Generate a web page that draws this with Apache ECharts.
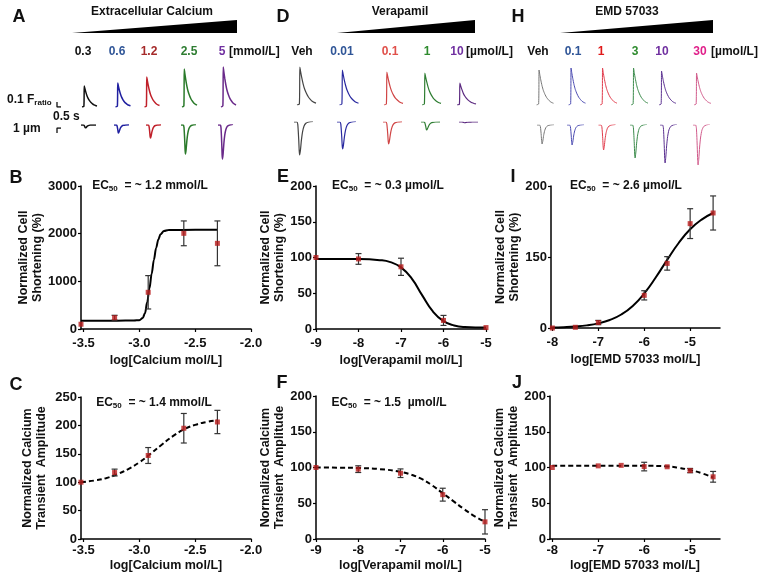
<!DOCTYPE html>
<html><head><meta charset="utf-8">
<script src="https://cdn.jsdelivr.net/npm/echarts@6/dist/echarts.min.js"></script>
<style>html,body{margin:0;padding:0;background:#fff}#c{width:764px;height:579px}</style>
</head><body><div id="c"></div>
<script>
// ---------------- DATA ----------------
// Panel B / C : extracellular calcium (log mol/L)
const caLogX = [-3.523, -3.222, -2.921, -2.602, -2.301];
const bShort = [100, 237, 770, 2007, 1797];
const bShortErr = [0, 50, 350, 260, 470];
const bFitX = [-3.523, -3.2, -3.05, -3.0, -2.97, -2.95, -2.93, -2.91, -2.89, -2.87, -2.85, -2.83, -2.81, -2.78, -2.74, -2.5, -2.3];
const bFitY = [175, 175, 178, 185, 230, 330, 560, 850, 1160, 1450, 1700, 1880, 1990, 2055, 2078, 2080, 2080];
const cAmp = [100, 117, 147, 195, 206];
const cAmpErr = [0, 6, 14, 26, 20.5];
const cFitX = [-3.523, -3.4, -3.3, -3.2, -3.1, -3.0, -2.9, -2.8, -2.7, -2.6, -2.5, -2.4, -2.3];
const cFitY = [100, 103, 107, 114, 123, 135, 150, 166, 181, 193, 201, 206, 209];
// Panel E / F : verapamil
const verLogX = [-9, -8, -7, -6, -5];
const eShort = [100, 98, 87, 12, 2];
const eShortErr = [0, 7.5, 12, 7, 0];
const eFitX = [-9, -8, -7.5, -7.25, -7, -6.75, -6.5, -6.25, -6, -5.75, -5.5, -5];
const eFitY = [98, 97.8, 96.3, 93.5, 86.2, 70.8, 47, 24.5, 11, 5, 2.8, 2];
const fAmp = [100, 97.7, 92, 62, 24];
const fAmpErr = [0, 4.7, 6, 9, 17];
const fFitX = [-9, -8.5, -8, -7.5, -7, -6.75, -6.5, -6.25, -6, -5.75, -5.5, -5.25, -5];
const fFitY = [100, 99.8, 99.3, 97.8, 94, 90, 84, 75, 64, 53, 42, 32, 24];
// Panel I / J : EMD 57033
const emdLogX = [-8, -7.5, -7, -6, -5.5, -5, -4.5];
const iShort = [0, 1, 7.7, 46, 91, 147, 162];
const iShortErr = [0, 0, 3, 6.5, 9.5, 21, 24];
const iFitX = [-8, -7.75, -7.5, -7.25, -7, -6.75, -6.5, -6.25, -6, -5.75, -5.5, -5.25, -5, -4.75, -4.5];
const iFitY = [0.7, 1.2, 2.1, 3.7, 6.5, 11.2, 19, 31.1, 48.6, 71.1, 96, 119.7, 139, 152.7, 162];
const jLogX = [-8, -7, -6.5, -6, -5.5, -5, -4.5];
const jAmp = [100, 102.3, 103, 101.3, 101, 95.7, 87];
const jAmpErr = [0, 0, 0, 6, 0, 3, 7.5];
const jFitX = [-8, -7, -6, -5.5, -5.25, -5, -4.75, -4.5];
const jFitY = [102.5, 102.5, 102.4, 101.5, 99.5, 96.5, 92, 86];
// tick labels
const caTicks = [-3.5, -3.0, -2.5, -2.0];
const verTicks = [-9, -8, -7, -6, -5];
const emdTicks = [-8, -7, -6, -5];
const iYLabels = {0: '0', 100: '150', 200: '200'};
// representative traces: template waveforms (time s, normalized)
const caT = [0, 0.25, 0.3, 0.38, 0.5, 0.65, 0.8, 1.0, 1.2, 1.4, 1.6, 1.8, 2.0];
const caShape = [0, 0.03, 1.0, 0.88, 0.72, 0.55, 0.42, 0.3, 0.21, 0.15, 0.1, 0.07, 0.05];
const shT = [0, 0.3, 0.4, 0.5, 0.55, 0.6, 0.68, 0.78, 0.9, 1.05, 1.25, 1.55, 2.0];
const shShape = [0, 0, -0.08, -0.55, -0.88, -1.0, -0.85, -0.55, -0.3, -0.13, -0.04, 0, 0.02];
// peak amplitudes (F ratio, µm)
const aDose = ['0.3', '0.6', '1.2', '2.5', '5'];
const aCaAmp = [0.42, 0.48, 0.60, 0.76, 0.80];
const aShAmp = [0.6, 1.6, 2.6, 5.8, 6.8];
const dDose = ['Veh', '0.01', '0.1', '1', '10'];
const dCaAmp = [0.76, 0.70, 0.66, 0.64, 0.44];
const dShAmp = [6.6, 5.4, 4.4, 1.6, 0.15];
const hDose = ['Veh', '0.1', '1', '3', '10', '30'];
const hCaAmp = [0.70, 0.74, 0.74, 0.74, 0.68, 0.64];
const hShAmp = [3.8, 4.0, 5.0, 6.6, 7.6, 8.0];
// scale bars: 0.1 F ratio / 0.5 s, 1 µm
const caBar = [[0, 0.1], [0, 0], [0.5, 0]];
const shBar = [[0.5, 0], [0, 0], [0, -1]];

// ---------------- LAYOUT / STYLE ----------------
const FONT = '"Liberation Sans", Arial, sans-serif';
const RED = '#b81c1c';
const panelsTop = [
  {dose: aDose, ca: aCaAmp, sh: aShAmp, labelX: [83, 117, 149, 189, 222], unitX: 229, unit: '[mmol/L]',
   labelCol: ['#111', '#2f5597', '#a52a2a', '#2e7d32', '#7030a0'],
   traceCol: ['#111', '#2020a0', '#c0202a', '#2a7a2a', '#6a2a8a'],
   caLeft: [82, 115.5, 144.5, 182, 221], shLeft: [81, 114, 146, 181, 218], caBase: 107, shBase: 125, w: 15, lw: 1.5},
  {dose: dDose, ca: dCaAmp, sh: dShAmp, labelX: [302, 342, 390, 427, 457], unitX: 466, unit: '[µmol/L]',
   labelCol: ['#111', '#2f5597', '#e0504a', '#2e8b2e', '#7030a0'],
   traceCol: ['#444', '#2a2aa0', '#d04545', '#2e7d32', '#5c2a80'],
   caLeft: [297, 339.5, 384, 422, 457], shLeft: [294, 337, 383, 421, 459], caBase: 105, shBase: 122, w: 19, lw: 1.2},
  {dose: hDose, ca: hCaAmp, sh: hShAmp, labelX: [538, 573, 601, 635, 662, 700], unitX: 711, unit: '[µmol/L]',
   labelCol: ['#111', '#2f5597', '#e01a1a', '#2e8b2e', '#7030a0', '#e0208a'],
   traceCol: ['#777', '#4a4ab0', '#e03a4a', '#3a8a4a', '#5a3090', '#d05a8a'],
   caLeft: [536.5, 568.5, 600, 631, 659, 694], shLeft: [537, 567, 598.5, 630, 660, 693], caBase: 105, shBase: 125, w: 17, lw: 1}
];

const grids = [], xAxes = [], yAxes = [], series = [];
function addGrid(g, xa, ya) {
  grids.push(g);
  const i = grids.length - 1;
  xAxes.push(Object.assign({gridIndex: i}, xa));
  yAxes.push(Object.assign({gridIndex: i}, ya));
  return i;
}
const hiddenX = {type: 'value', min: 0, max: 2, show: false};
// traces
panelsTop.forEach(p => {
  p.dose.forEach((d, k) => {
    let gi = addGrid({left: p.caLeft[k], top: p.caBase - 50, width: p.w, height: 50}, hiddenX, {type: 'value', min: 0, max: 1, show: false});
    series.push({type: 'line', xAxisIndex: gi, yAxisIndex: gi, showSymbol: false, silent: true, smooth: 0.2,
      lineStyle: {color: p.traceCol[k], width: p.lw}, data: caT.map((t, j) => [t, caShape[j] * p.ca[k]])});
    gi = addGrid({left: p.shLeft[k], top: p.shBase, width: p.w, height: 45}, hiddenX, {type: 'value', min: -9, max: 0, show: false});
    series.push({type: 'line', xAxisIndex: gi, yAxisIndex: gi, showSymbol: false, silent: true, smooth: 0.2,
      lineStyle: {color: p.traceCol[k], width: p.lw}, data: shT.map((t, j) => [t, shShape[j] * p.sh[k]])});
  });
});
// scale bars
let sg = addGrid({left: 57, top: 57, width: 16, height: 50}, hiddenX, {type: 'value', min: 0, max: 1, show: false});
series.push({type: 'line', xAxisIndex: sg, yAxisIndex: sg, showSymbol: false, silent: true, lineStyle: {color: '#111', width: 1.3}, data: caBar});
sg = addGrid({left: 57, top: 128, width: 16, height: 45}, hiddenX, {type: 'value', min: -9, max: 0, show: false});
series.push({type: 'line', xAxisIndex: sg, yAxisIndex: sg, showSymbol: false, silent: true, lineStyle: {color: '#111', width: 1.3}, data: shBar});

// dose-response charts
const labelStyle = {color: '#111', fontSize: 13, fontWeight: 'bold', fontFamily: FONT};
const nameStyle = {color: '#111', fontSize: 12.5, fontWeight: 'bold', fontFamily: FONT, lineHeight: 14};
function xAx(min, max, ticks, fmt, name, margin, gap) {
  return {type: 'value', min, max, splitLine: {show: false},
    axisLine: {onZero: false, lineStyle: {color: '#000', width: 1.5}},
    axisTick: {show: true, length: 3, customValues: ticks, lineStyle: {color: '#000', width: 1.2}},
    axisLabel: Object.assign({customValues: ticks, formatter: fmt, margin}, labelStyle),
    name, nameLocation: 'middle', nameGap: gap, nameTextStyle: nameStyle};
}
function yAx(max, interval, name, gap, fmt) {
  return {type: 'value', min: 0, max, interval, splitLine: {show: false},
    axisLine: {show: true, onZero: false, lineStyle: {color: '#000', width: 1.5}},
    axisTick: {show: true, length: 3, lineStyle: {color: '#000', width: 1.2}},
    axisLabel: Object.assign({margin: 4, formatter: fmt || (v => String(v))}, labelStyle),
    name, nameLocation: 'middle', nameRotate: 90, nameGap: gap, nameTextStyle: nameStyle};
}
function errRender(params, api) {
  const x = api.value(0), lo = api.value(1), hi = api.value(2);
  const p1 = api.coord([x, hi]), p2 = api.coord([x, lo]);
  const st = {stroke: '#333', lineWidth: 1.2};
  return {type: 'group', children: [
    {type: 'line', shape: {x1: p1[0], y1: p1[1], x2: p2[0], y2: p2[1]}, style: st},
    {type: 'line', shape: {x1: p1[0] - 3, y1: p1[1], x2: p1[0] + 3, y2: p1[1]}, style: st},
    {type: 'line', shape: {x1: p2[0] - 3, y1: p2[1], x2: p2[0] + 3, y2: p2[1]}, style: st}
  ]};
}
function addChart(g, xa, ya, xs, ys, es, fx, fy, dashed, mono) {
  const gi = addGrid(g, xa, ya);
  const fit = {type: 'line', xAxisIndex: gi, yAxisIndex: gi, showSymbol: false, silent: true, smooth: mono ? 0.35 : 0.5,
    lineStyle: {color: '#000', width: 2, type: dashed ? [5, 3] : 'solid'}, data: fx.map((x, i) => [x, fy[i]]), z: 2};
  if (mono) fit.smoothMonotone = 'x';
  series.push(fit);
  series.push({type: 'custom', xAxisIndex: gi, yAxisIndex: gi, silent: true, renderItem: errRender, encode: {x: 0, y: [1, 2]},
    data: xs.map((x, i) => [x, ys[i] - es[i], ys[i] + es[i]]).filter((d, i) => es[i] > 0), z: 3});
  series.push({type: 'scatter', xAxisIndex: gi, yAxisIndex: gi, symbol: 'rect', symbolSize: 5, silent: true,
    itemStyle: {color: RED}, data: xs.map((x, i) => [x, ys[i]]), z: 4});
}
const fmt1 = v => v.toFixed(1);
const fmt0 = v => String(v);
const shortName = 'Normalized Cell\nShortening (%)';
const ampName = 'Normalized Calcium\nTransient  Amplitude';
addChart({left: 81, top: 186, width: 170, height: 143}, xAx(-3.523, -2.0, caTicks, fmt1, 'log[Calcium mol/L]', 8, 25),
  yAx(3000, 1000, shortName, 35), caLogX, bShort, bShortErr, bFitX, bFitY, false, true);
addChart({left: 316, top: 186, width: 170, height: 143}, xAx(-9, -5, verTicks, fmt0, 'log[Verapamil mol/L]', 8, 25),
  yAx(200, 50, shortName, 26), verLogX, eShort, eShortErr, eFitX, eFitY, false, false);
addChart({left: 551, top: 186, width: 169, height: 142}, xAx(-8.03, -4.35, emdTicks, fmt0, 'log[EMD 57033 mol/L]', 8, 25),
  yAx(200, 100, shortName, 26, v => iYLabels[v]), emdLogX, iShort, iShortErr, iFitX, iFitY, false, false);
addChart({left: 81, top: 397, width: 170, height: 142}, xAx(-3.523, -2.0, caTicks, fmt1, 'log[Calcium mol/L]', 5, 20),
  yAx(250, 50, ampName, 32), caLogX, cAmp, cAmpErr, cFitX, cFitY, true, false);
addChart({left: 316, top: 396, width: 169, height: 143}, xAx(-9, -5, verTicks, fmt0, 'log[Verapamil mol/L]', 5, 20),
  yAx(200, 50, ampName, 24), verLogX, fAmp, fAmpErr, fFitX, fFitY, true, false);
addChart({left: 550, top: 396, width: 170, height: 143}, xAx(-8.05, -4.35, emdTicks, fmt0, 'log[EMD 57033 mol/L]', 5, 20),
  yAx(200, 50, ampName, 25), jLogX, jAmp, jAmpErr, jFitX, jFitY, true, false);

// ---------------- TEXT / DECORATION ----------------
const graphic = [];
function txt(x, y, text, size, color, align, extra) {
  graphic.push({type: 'text', x, y, silent: true, style: Object.assign({text, fill: color || '#111',
    font: 'bold ' + size + 'px ' + FONT, align: align || 'center', verticalAlign: 'middle'}, extra || {})});
}
[['A', 19, 17], ['D', 283, 17], ['H', 518, 17], ['B', 16, 178], ['E', 283, 177], ['I', 513, 177],
 ['C', 16, 385], ['F', 282, 383], ['J', 517, 383]].forEach(l => txt(l[1], l[2], l[0], 18));
txt(152, 12, 'Extracellular Calcium', 12);
txt(400, 12, 'Verapamil', 12);
txt(627, 12, 'EMD 57033', 12);
[[72, 237], [337, 475], [560, 713]].forEach(w => graphic.push({type: 'polygon', silent: true,
  shape: {points: [[w[0], 33], [w[1], 20], [w[1], 33]]}, style: {fill: '#000'}}));
panelsTop.forEach(p => {
  p.dose.forEach((d, k) => txt(p.labelX[k], 52, d, 12, p.labelCol[k]));
  txt(p.unitX, 52, p.unit, 12, '#111', 'left');
});
const richSub = {a: {font: 'bold 12px ' + FONT, fill: '#111'}, s: {font: 'bold 8px ' + FONT, fill: '#111', padding: [6, 0, 0, 0]}};
txt(7, 100, '{a|0.1 F}{s|ratio}', 12, '#111', 'left', {rich: richSub});
txt(53, 117, '0.5 s', 12, '#111', 'left');
txt(13, 129, '1 µm', 12, '#111', 'left');
[[150, 186, '1.2 mmol/L'], [388, 186, '0.3 µmol/L'], [626, 186, '2.6 µmol/L'], [154, 403, '1.4 mmol/L'], [389, 403, '1.5  µmol/L']]
  .forEach(e => txt(e[0], e[1], '{a|EC}{s|50}{a|  = ~ ' + e[2] + '}', 12, '#111', 'center', {rich: richSub}));

const chart = echarts.init(document.getElementById('c'), null, {renderer: 'canvas'});
chart.setOption({animation: false, backgroundColor: '#fff', grid: grids, xAxis: xAxes, yAxis: yAxes, series, graphic});
</script></body></html>
